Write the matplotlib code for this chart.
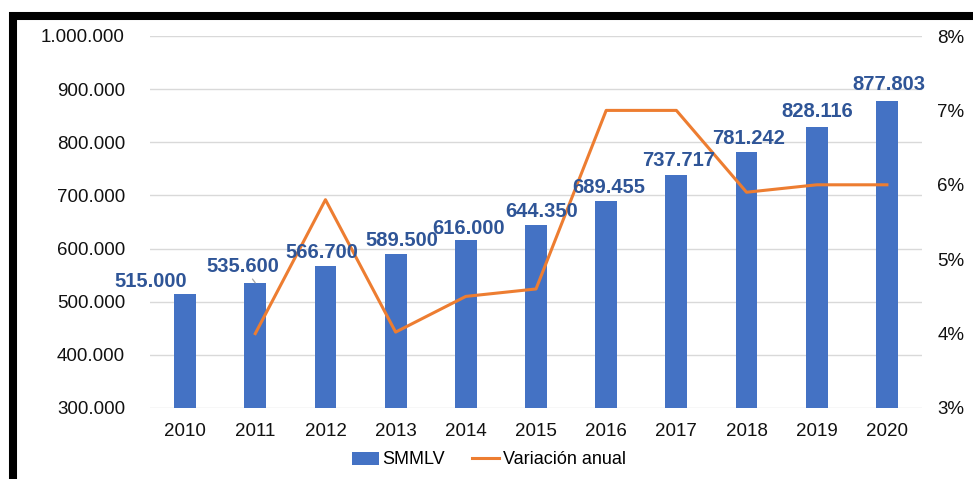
import numpy as np
import matplotlib
matplotlib.use("Agg")
import matplotlib.pyplot as plt
from matplotlib.ticker import FuncFormatter, MultipleLocator
from matplotlib.patches import Rectangle

plt.rcParams['font.family'] = ['Liberation Sans', 'DejaVu Sans']

# data
years = ['2010', '2011', '2012', '2013', '2014', '2015',
         '2016', '2017', '2018', '2019', '2020']
smmlv = [515000, 535600, 566700, 589500, 616000, 644350,
         689455, 737717, 781242, 828116, 877803]
variacion = [np.nan, 4.0, 5.8, 4.02, 4.5, 4.6, 7.0, 7.0, 5.9, 6.0, 6.0]  # %

# label offsets from bar top, in pixels (dx, dy)
label_offsets = [(-34, 12), (-12, 16), (-4, 14), (6, 14), (3, 12), (6, 14),
                 (3, 14), (2, 15), (2, 14), (1, 16), (2, 16)]

blue = '#4472C4'
orange = '#ED7D31'
label_color = '#2F5597'

fig = plt.figure(figsize=(9.73, 4.79), dpi=100)
ax = fig.add_axes([150/973, 1-408/479, 772/973, 372/479])
ax2 = ax.twinx()

x = np.arange(len(years))
ax.bar(x, smmlv, width=0.31, color=blue, zorder=2, label='SMMLV')
ax.set_ylim(300000, 1000000)
ax.set_xlim(-0.5, len(years) - 0.5)
ax.yaxis.set_major_locator(MultipleLocator(100000))
ax.yaxis.set_major_formatter(FuncFormatter(lambda v, p: f"{v:,.0f}".replace(',', '.')))
ax.set_xticks(x)
ax.set_xticklabels(years)
ax.grid(axis='y', color='#D9D9D9', linewidth=1, zorder=0)
ax.set_axisbelow(True)

ax2.plot(x, [v / 100 for v in variacion], color=orange, linewidth=2.2,
         label='Variación anual')
ax2.set_ylim(0.03, 0.08)
ax2.yaxis.set_major_locator(MultipleLocator(0.01))
ax2.yaxis.set_major_formatter(FuncFormatter(lambda v, p: f"{v*100:.0f}%"))

for a in (ax, ax2):
    for s in a.spines.values():
        s.set_visible(False)
ax.tick_params(axis='y', length=0, pad=18, labelsize=13.5, labelcolor='#111111')
ax.tick_params(axis='x', length=0, pad=11, labelsize=13.5, labelcolor='#111111')
ax2.tick_params(axis='y', length=0, pad=11, labelsize=13.5, labelcolor='#111111')

# data labels (on top of the line)
for i, v in enumerate(smmlv):
    dx, dy = label_offsets[i]
    txt = f"{v:,.0f}".replace(',', '.')
    arrow = dict(arrowstyle='-', color='#A6A6A6', lw=0.9,
                 shrinkA=0, shrinkB=0) if i == 1 else None
    ax2.annotate(txt, xy=(i, v), xycoords=ax.transData,
                 xytext=(dx, dy), textcoords='offset pixels',
                 ha='center', va='center', fontsize=14.5, fontweight='bold',
                 color=label_color, arrowprops=arrow, zorder=5)

# legend
h1, l1 = ax.get_legend_handles_labels()
h2, l2 = ax2.get_legend_handles_labels()
fig.legend(h1 + h2, l1 + l2, loc='center', bbox_to_anchor=(489/973, 1-460/479),
           ncol=2, frameon=False, fontsize=13, handlelength=1.5,
           handletextpad=0.2, columnspacing=1.5)

# black frame (top and left)
fig.add_artist(Rectangle((13.3/973, -0.2), 1.5, (1-16/479) + 0.2,
                         transform=fig.transFigure, fill=False,
                         edgecolor='black', linewidth=5.8, clip_on=False))

fig.savefig('out.png', dpi=100)
